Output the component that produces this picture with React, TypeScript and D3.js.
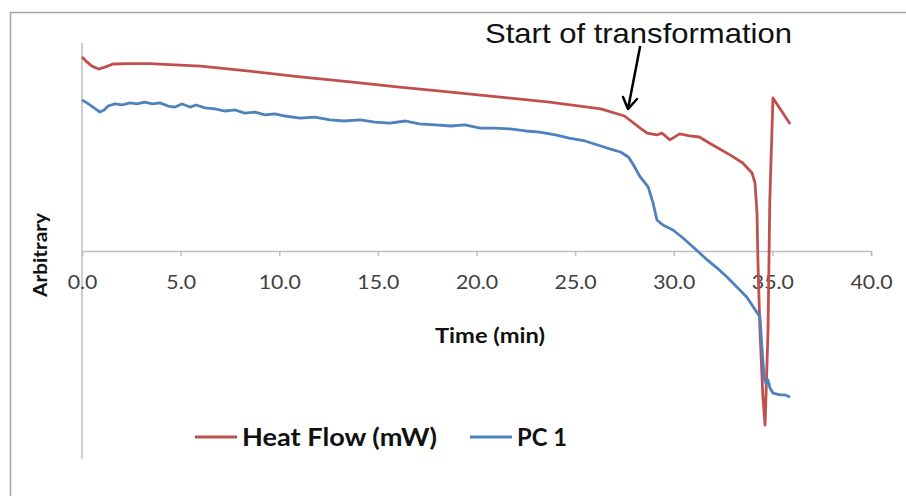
import { useEffect, useRef } from "react";
import * as d3 from "d3";

// time (min) and arbitrary values
const heatTime = [0, 0.25, 0.5, 0.86, 1.2, 1.57, 2.43, 3.45, 6.0, 8.5, 11.05, 13.6, 16.1, 18.7, 21.2, 23.7, 26.3, 27.5, 28.3, 28.65, 29.15, 29.4, 29.8, 30.3, 30.8, 31.3, 31.8, 32.85, 33.5, 33.97, 34.12, 34.22, 34.27, 34.37, 34.52, 34.63, 34.78, 34.87, 35.03, 35.9];
const heatFlow = [0.933, 0.909, 0.889, 0.875, 0.885, 0.899, 0.901, 0.901, 0.889, 0.865, 0.837, 0.813, 0.788, 0.764, 0.74, 0.716, 0.683, 0.649, 0.591, 0.567, 0.558, 0.567, 0.534, 0.563, 0.553, 0.548, 0.519, 0.462, 0.423, 0.375, 0.327, 0.183, -0.058, -0.38, -0.702, -0.837, -0.38, 0.245, 0.736, 0.611];

const pcTime = [0, 0.25, 0.56, 0.91, 1.12, 1.32, 1.67, 2.03, 2.43, 2.79, 3.19, 3.55, 3.95, 4.36, 4.71, 5.07, 5.48, 5.78, 6.24, 6.74, 7.25, 7.76, 8.26, 8.77, 9.28, 9.78, 10.29, 11.05, 11.8, 12.57, 13.3, 14.1, 14.85, 15.6, 16.4, 17.1, 17.9, 18.7, 19.4, 20.2, 20.9, 21.7, 22.5, 23.2, 24.0, 24.7, 25.5, 26.3, 26.8, 27.3, 27.7, 27.9, 28.3, 28.7, 28.95, 29.15, 29.45, 29.96, 30.47, 30.98, 31.7, 32.2, 32.7, 33.2, 33.7, 34.37, 34.47, 34.58, 34.68, 34.78, 34.88, 35.03, 35.39, 35.64, 35.9];
const pc1 = [0.726, 0.712, 0.692, 0.668, 0.678, 0.697, 0.707, 0.702, 0.712, 0.707, 0.716, 0.707, 0.712, 0.697, 0.692, 0.707, 0.692, 0.702, 0.688, 0.683, 0.673, 0.678, 0.663, 0.668, 0.654, 0.659, 0.649, 0.639, 0.644, 0.63, 0.625, 0.63, 0.62, 0.615, 0.625, 0.611, 0.606, 0.601, 0.606, 0.591, 0.591, 0.587, 0.577, 0.572, 0.558, 0.543, 0.529, 0.505, 0.49, 0.476, 0.452, 0.423, 0.356, 0.308, 0.231, 0.149, 0.125, 0.101, 0.0625, 0.019, -0.043, -0.082, -0.125, -0.173, -0.221, -0.317, -0.462, -0.606, -0.639, -0.62, -0.659, -0.683, -0.692, -0.692, -0.702];

const xTicks = [0, 5, 10, 15, 20, 25, 30, 35, 40];
const seriesNames = ["Heat Flow (mW)", "PC 1"];
const seriesColors = ["#C0504D", "#4F81BD"];

export default function App() {
  const ref = useRef<SVGSVGElement | null>(null);

  useEffect(() => {
    const svg = d3.select(ref.current);
    svg.selectAll("*").remove();

    const width = 906;
    const height = 496;
    const plot = { left: 82, right: 871, top: 43, bottom: 459 };

    svg.append("rect").attr("width", width).attr("height", height).attr("fill", "#fff");

    // outer chart frame (only top and left visible)
    svg.append("path")
      .attr("d", `M10.5,${height} V12.5 H${width}`)
      .attr("fill", "none")
      .attr("stroke", "#a6a6a6")
      .attr("stroke-width", 1.5);

    const x = d3.scaleLinear().domain([0, 40]).range([plot.left, plot.right]);
    const y = d3.scaleLinear().domain([-1, 1]).range([plot.bottom, plot.top]);

    // y axis line (no labels)
    svg.append("line")
      .attr("x1", x(0)).attr("x2", x(0))
      .attr("y1", plot.top).attr("y2", plot.bottom)
      .attr("stroke", "#bfbfbf").attr("stroke-width", 1.5);

    // x axis crossing at zero
    const xAxis = svg.append("g")
      .attr("transform", `translate(0,${y(0)})`)
      .call(d3.axisBottom(x).tickValues(xTicks).tickFormat(d3.format(".1f")).tickSize(5).tickSizeOuter(5).tickPadding(20));
    xAxis.select(".domain").attr("stroke", "#bfbfbf").attr("stroke-width", 1.5);
    xAxis.selectAll(".tick line").attr("stroke", "#bfbfbf").attr("stroke-width", 1.5);
    xAxis.selectAll<SVGTextElement, number>(".tick text")
      .attr("font-family", "Lato, sans-serif")
      .attr("font-size", 19)
      .attr("fill", "#404040")
      .each(function () {
        // the source glyphs are a little wider than Lato
        const w = this.getComputedTextLength();
        d3.select(this).attr("textLength", w * 1.12).attr("lengthAdjust", "spacingAndGlyphs");
      });

    const line = d3.line<[number, number]>()
      .x(d => x(d[0]))
      .y(d => y(d[1]));

    const heat: [number, number][] = heatTime.map((t, i) => [t, heatFlow[i]]);
    const pc: [number, number][] = pcTime.map((t, i) => [t, pc1[i]]);

    svg.append("path")
      .attr("d", line(heat))
      .attr("fill", "none")
      .attr("stroke", seriesColors[0])
      .attr("stroke-width", 2.8)
      .attr("stroke-linejoin", "round");

    svg.append("path")
      .attr("d", line(pc))
      .attr("fill", "none")
      .attr("stroke", seriesColors[1])
      .attr("stroke-width", 2.8)
      .attr("stroke-linejoin", "round");

    // axis titles
    svg.append("text")
      .attr("x", 435).attr("y", 343)
      .attr("font-family", "Lato, sans-serif")
      .attr("font-weight", "bold")
      .attr("font-size", 20.5)
      .attr("textLength", 110)
      .attr("lengthAdjust", "spacingAndGlyphs")
      .attr("fill", "#111")
      .text("Time (min)");

    svg.append("text")
      .attr("transform", "translate(47,297) rotate(-90)")
      .attr("font-family", "Lato, sans-serif")
      .attr("font-weight", "bold")
      .attr("font-size", 19.5)
      .attr("textLength", 84)
      .attr("lengthAdjust", "spacingAndGlyphs")
      .attr("fill", "#111")
      .text("Arbitrary");

    // annotation
    svg.append("text")
      .attr("x", 485).attr("y", 43)
      .attr("font-family", "'Liberation Sans', Arial, sans-serif")
      .attr("font-size", 28)
      .attr("textLength", 307)
      .attr("lengthAdjust", "spacingAndGlyphs")
      .attr("fill", "#111")
      .text("Start of transformation");

    svg.append("path")
      .attr("d", "M640,47 L628,109 M623,97 L628,109 L637,99")
      .attr("fill", "none")
      .attr("stroke", "#000")
      .attr("stroke-width", 2.5)
      .attr("stroke-linecap", "round")
      .attr("stroke-linejoin", "round");

    // legend
    const legendX = [195, 470];
    const legendTextW = [195, 50];
    seriesNames.forEach((name, i) => {
      const g = svg.append("g").attr("transform", `translate(${legendX[i]},437)`);
      g.append("line")
        .attr("x1", 0).attr("x2", 42)
        .attr("stroke", seriesColors[i]).attr("stroke-width", 3);
      g.append("text")
        .attr("x", 47).attr("y", 8.5)
        .attr("font-family", "Lato, sans-serif")
        .attr("font-weight", "bold")
        .attr("font-size", 24)
        .attr("textLength", legendTextW[i])
        .attr("lengthAdjust", "spacingAndGlyphs")
        .attr("fill", "#111")
        .text(name);
    });
  }, []);

  return (
    <svg
      ref={ref}
      width={906}
      height={496}
      style={{ position: "absolute", left: 0, top: 0, display: "block" }}
    />
  );
}
